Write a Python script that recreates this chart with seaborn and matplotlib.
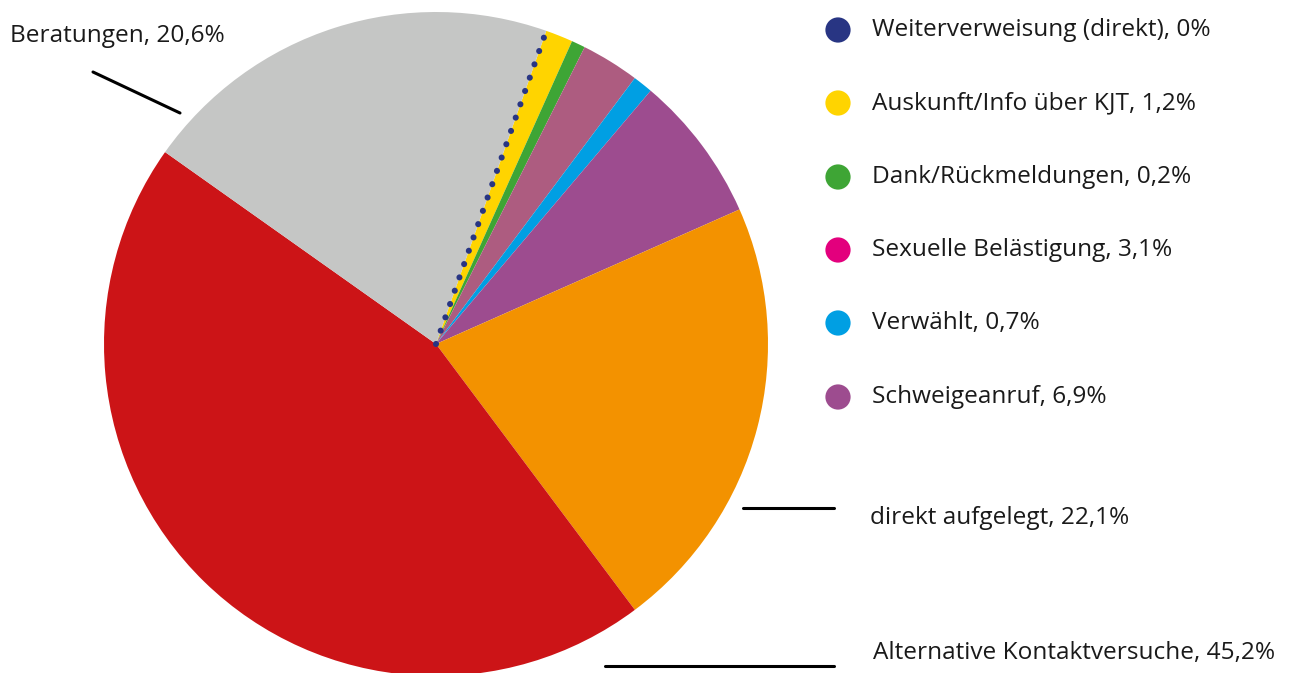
import numpy as np
import matplotlib.pyplot as plt
import seaborn as sns

# ---- Data (categories in clockwise order, starting at the dotted 0% line) ----
categories = [
    "Weiterverweisung (direkt)",
    "Auskunft/Info über KJT",
    "Dank/Rückmeldungen",
    "Sexuelle Belästigung",
    "Verwählt",
    "Schweigeanruf",
    "direkt aufgelegt",
    "Alternative Kontaktversuche",
    "Beratungen",
]
published_pct = ["0", "1,2", "0,2", "3,1", "0,7", "6,9", "22,1", "45,2", "20,6"]
# wedge shares as drawn in the picture (percent of the circle)
wedge_share = [0.0, 1.33, 0.67, 2.83, 0.97, 7.17, 21.42, 45.03, 20.58]

slice_colors = ["#283583", "#ffd400", "#3ea535", "#ad5c80", "#009fe3",
                "#9d4c8f", "#f39200", "#cc1417", "#c5c6c5"]
legend_colors = ["#283583", "#ffd400", "#3ea535", "#e3007d", "#009fe3", "#9d4c8f"]

START_ANGLE = 70.6
W, H = 1292, 673
CENTER = (436, H - 344)
RADIUS = 332
FS = 17.6

sns.set_theme(style="white")
plt.rcParams["font.family"] = ["Open Sans", "DejaVu Sans"]

fig = plt.figure(figsize=(W / 100, H / 100), dpi=100)
ax = fig.add_axes([0, 0, 1, 1])

vals = [v for v in wedge_share if v > 0]
cols = [c for v, c in zip(wedge_share, slice_colors) if v > 0]
ax.pie(vals, colors=cols, startangle=START_ANGLE, counterclock=False,
       center=CENTER, radius=RADIUS, wedgeprops=dict(linewidth=0))

# 0% slice -> dotted navy line at the start angle
a = np.deg2rad(START_ANGLE)
ax.plot([CENTER[0], CENTER[0] + RADIUS * np.cos(a)],
        [CENTER[1], CENTER[1] + RADIUS * np.sin(a)],
        color=slice_colors[0], lw=4.4, linestyle=(0, (0.01, 2.3)),
        dash_capstyle="round", zorder=3)

ax.set_xlim(0, W)
ax.set_ylim(0, H)
ax.set_aspect("equal")
ax.axis("off")

# ---- Legend (small categories) ----
legend_y = H - np.array([30, 103, 177, 250, 323, 397])
n_leg = len(legend_colors)
sns.scatterplot(x=[838] * n_leg, y=legend_y, hue=categories[:n_leg],
                palette=legend_colors, s=330, linewidth=0, legend=False, ax=ax)
for y, cat, pct in zip(legend_y, categories[:n_leg], published_pct[:n_leg]):
    ax.text(872, y, f"{cat}, {pct}%", fontsize=FS, va="center", ha="left",
            color="#1a1a1a")

# ---- Callout labels for the big slices ----
ax.text(10, H - 36, f"{categories[8]}, {published_pct[8]}%", fontsize=FS,
        va="center", ha="left", color="#1a1a1a")
ax.plot([93, 180], [H - 72, H - 113], color="black", lw=2.2)

ax.text(870, H - 518, f"{categories[6]}, {published_pct[6]}%", fontsize=FS,
        va="center", ha="left", color="#1a1a1a")
ax.plot([743, 834], [H - 508, H - 508], color="black", lw=2.2)

ax.text(873, H - 653, f"{categories[7]}, {published_pct[7]}%", fontsize=FS,
        va="center", ha="left", color="#1a1a1a")
ax.plot([605, 834], [H - 666, H - 666], color="black", lw=2.2)

fig.savefig("out.png", dpi=100)
